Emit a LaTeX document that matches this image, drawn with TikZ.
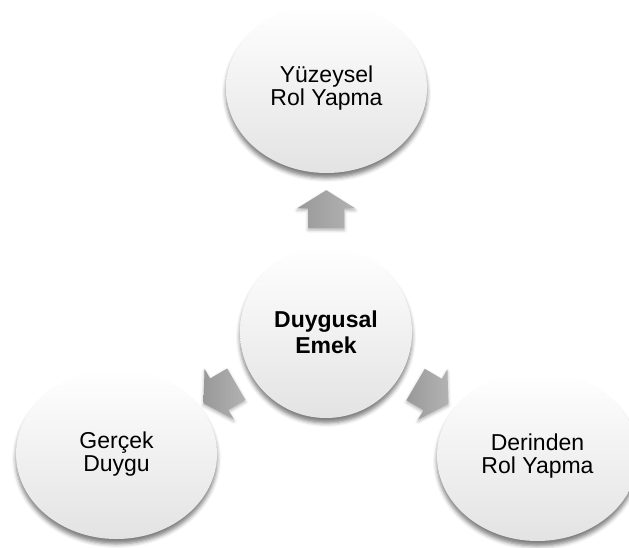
\documentclass[tikz,border=0pt]{standalone}
\usepackage{fontspec}
\setmainfont{Liberation Sans}
\usetikzlibrary{shapes.geometric,shapes.arrows,shadows.blur}
\begin{document}
\begin{tikzpicture}[x=1bp,y=-1bp,
  bubble/.style={ellipse, minimum width=201bp, minimum height=170bp, inner sep=0pt,
    align=center, top color=white, middle color=white, bottom color=black!11,
    blur shadow={shadow xshift=0bp, shadow yshift=-5bp, shadow blur radius=4bp, shadow opacity=50},
    font=\fontsize{23bp}{23bp}\selectfont},
  hub/.style={bubble, circle, minimum size=172bp,
    font=\fontsize{23bp}{26bp}\selectfont\bfseries},
  pointer/.style={single arrow, draw=none, left color=black!40, right color=black!30,
    inner xsep=0pt, inner ysep=18bp,
    minimum height=38bp, single arrow head extend=11bp,
    single arrow tip angle=116, sloped, allow upside down,
    blur shadow={shadow xshift=0bp, shadow yshift=-2bp, shadow blur radius=3bp, shadow opacity=30}}
]
\useasboundingbox (0,0) rectangle (629,548);

% satellites around the hub
\node[bubble] (top)   at (326.5,88)  {Yüzeysel\\Rol Yapma};
\node[bubble] (left)  at (116.5,454) {Gerçek\\Duygu};
\node[bubble] (right) at (537.5,456) {Derinden\\Rol Yapma};

% central concept
\node[hub] (c) at (326,332) {Duygusal\\Emek};

% diverging arrows from the hub
\path (c.center) -- (top.center)   node[pointer, pos=0.48] (a1) {};
\path (c.center) -- (left.center)  node[pointer, pos=0.483] (a2) {};
\path (c.center) -- (right.center) node[pointer, pos=0.478] (a3) {};
\end{tikzpicture}
\end{document}
